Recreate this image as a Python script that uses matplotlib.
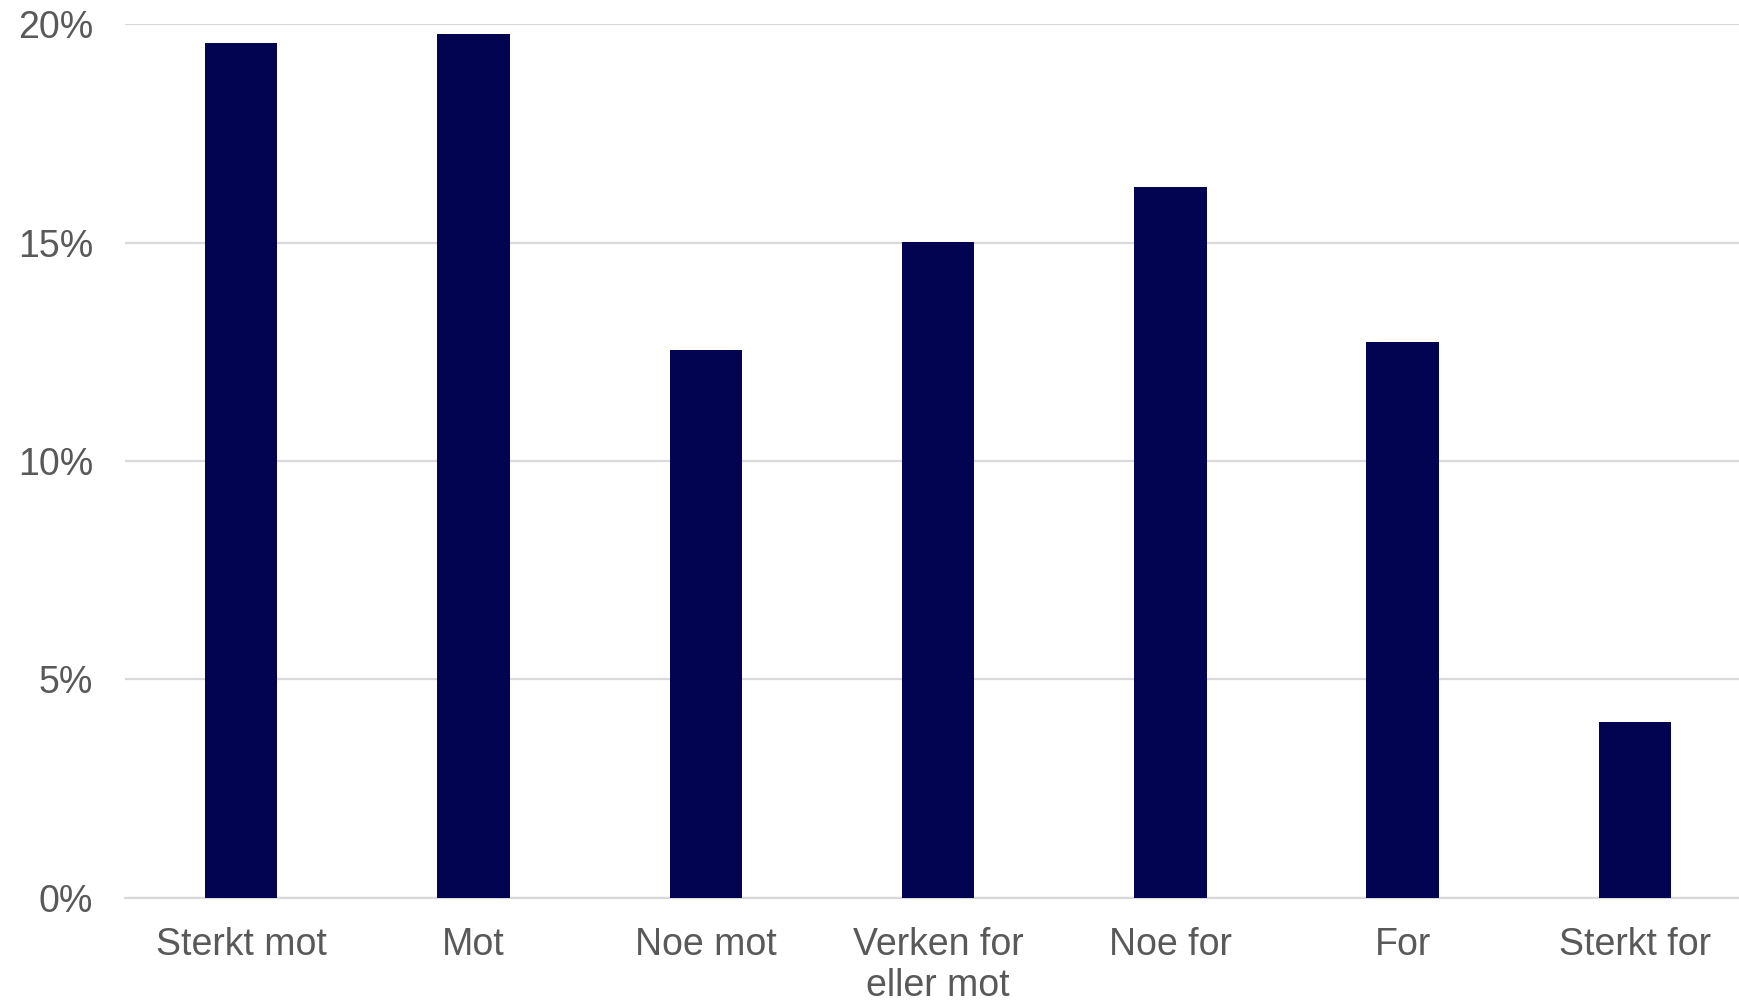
import matplotlib.pyplot as plt
import matplotlib as mpl
from matplotlib.ticker import FuncFormatter

mpl.rcParams.update({
    "font.family": ["Liberation Sans", "DejaVu Sans"],
    "font.size": 27,
})

categories = ["Sterkt mot", "Mot", "Noe mot", "Verken for\neller mot",
              "Noe for", "For", "Sterkt for"]
shares = [19.57, 19.77, 12.54, 15.01, 16.28, 12.72, 4.03]
y_ticks = [0, 5, 10, 15, 20]

BAR_COLOR = "#020452"
TEXT_COLOR = "#595959"
GRID_COLOR = "#d9d9d9"

fig = plt.figure(figsize=(17.40, 10.01), dpi=100)
ax = fig.add_axes([125 / 1740, 1 - 897.5 / 1001, 1 - 125 / 1740, (897.5 - 24.4) / 1001])

x = list(range(len(categories)))
ax.bar(x, shares, width=0.312, color=BAR_COLOR, zorder=3)

ax.set_xlim(-0.5, 6.452)
ax.set_ylim(0, 20)
ax.set_yticks(y_ticks)
ax.yaxis.set_major_formatter(FuncFormatter(lambda v, _: f"{v:.0f}%"))
ax.set_xticks(x)
ax.set_xticklabels(categories, linespacing=1.2)

ax.grid(axis="y", color=GRID_COLOR, linewidth=1.6, zorder=0)
ax.grid(axis="x", visible=False)
for side in ["top", "right", "left"]:
    ax.spines[side].set_visible(False)
ax.spines["bottom"].set_color(GRID_COLOR)
ax.spines["bottom"].set_linewidth(1.6)

ax.tick_params(axis="both", length=0, colors=TEXT_COLOR, labelsize=27)
ax.tick_params(axis="x", pad=21)
ax.tick_params(axis="y", pad=23)

fig.savefig("out.png", dpi=100)
